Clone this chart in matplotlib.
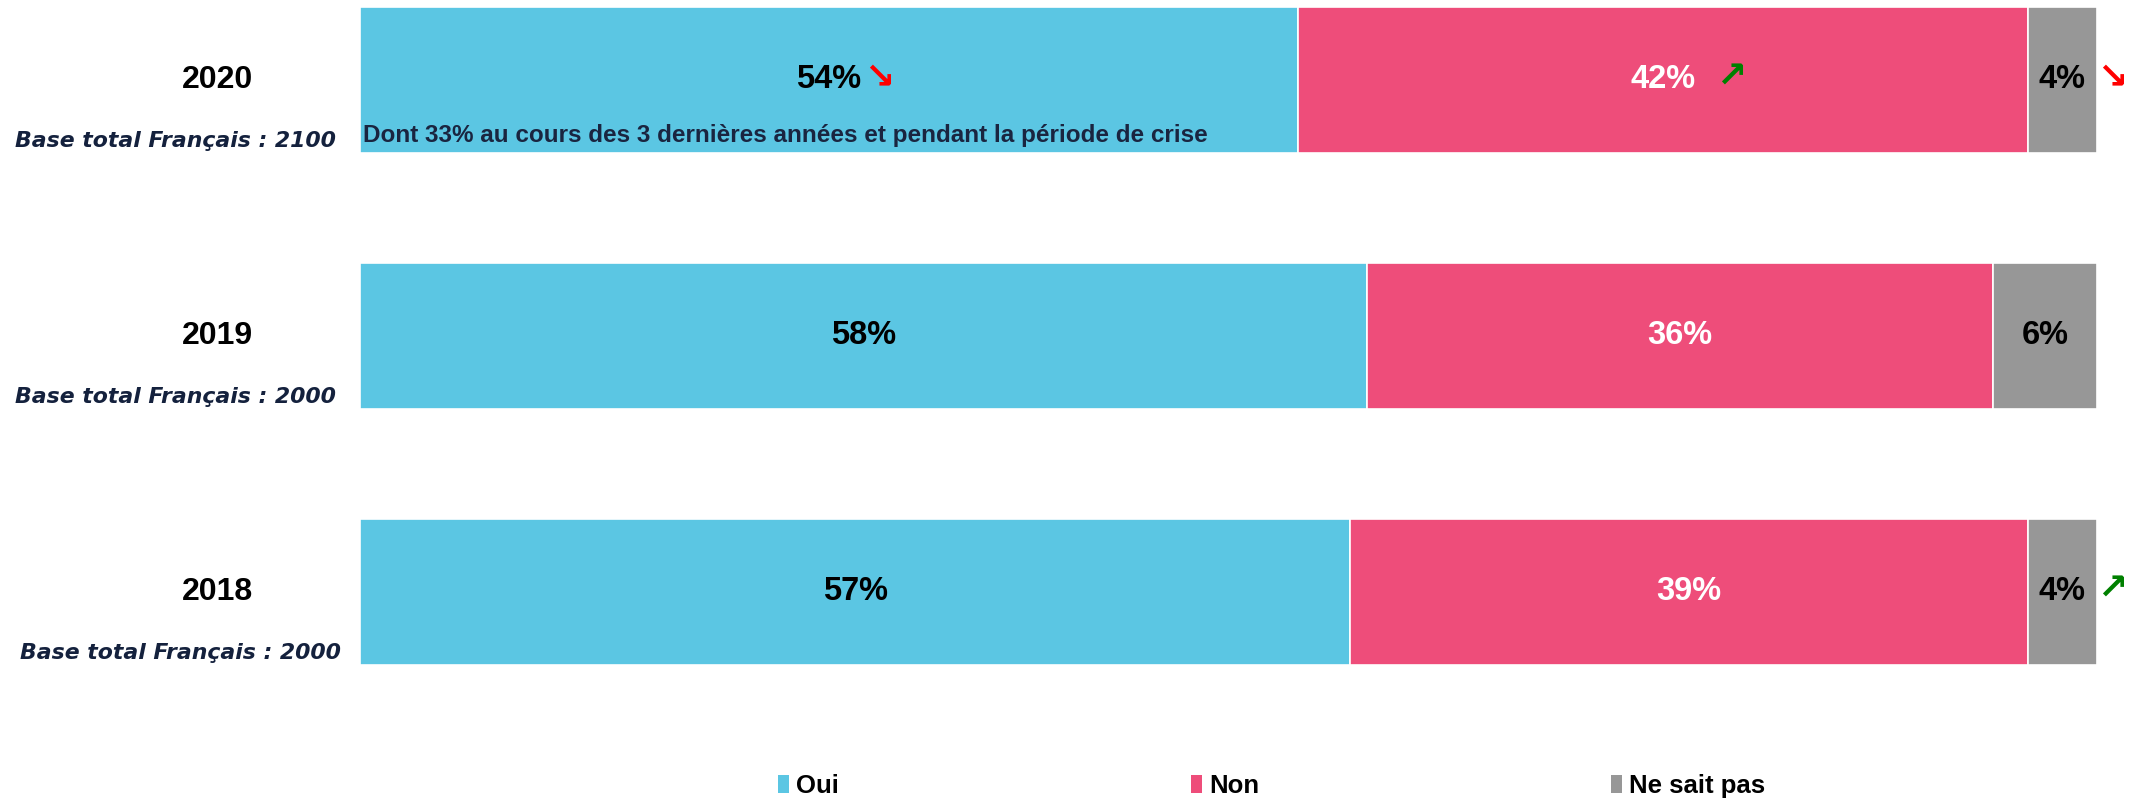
import matplotlib
matplotlib.use("Agg")
import matplotlib.pyplot as plt
from matplotlib.patches import Patch

years = ["2020", "2019", "2018"]
bases = ["Base total Français : 2100", "Base total Français : 2000", "Base total Français : 2000"]
oui = [54, 58, 57]
non = [42, 36, 39]
nsp = [4, 6, 4]
series_names = ["Oui", "Non", "Ne sait pas"]
colors = ["#5BC6E3", "#EE4D7A", "#979797"]
label_colors = ["black", "white", "black"]
# trend arrows: (year index, series index, symbol)
trends = [(0, 0, "down"), (0, 1, "up"), (0, 2, "down"), (2, 2, "up")]
note_2020 = "Dont 33% au cours des 3 dernières années et pendant la période de crise"

plt.rcParams['font.family'] = ['Liberation Sans', 'DejaVu Sans']

fig = plt.figure(figsize=(21.33, 8.02), dpi=100)
ax = fig.add_axes([360/2133, (802-700)/802, 1737/2133, 700/802])
ax.set_xlim(0, 100)
ax.set_ylim(-0.4219, 2.3125)
ax.axis('off')

ypos = [2, 1, 0]
height = 0.574
data = [oui, non, nsp]
left = [0, 0, 0]
handles = []
for s, vals in enumerate(data):
    ax.barh(ypos, vals, left=left, height=height, color=colors[s],
            edgecolor='white', linewidth=1.2, label=series_names[s])
    handles.append(Patch(facecolor=colors[s], label=series_names[s]))
    for i, v in enumerate(vals):
        ax.text(left[i] + v/2, ypos[i], f"{v}%", ha='center', va='center',
                fontsize=23.5, fontweight='bold', color=label_colors[s])
    left = [l + v for l, v in zip(left, vals)]

# trend arrows
arrow_offsets = {0: 50, 1: 68, 2: 50}
for yi, si, kind in trends:
    starts = [0, data[0][yi], data[0][yi] + data[1][yi]]
    cx = starts[si] + data[si][yi] / 2
    sym = "↘" if kind == "down" else "↗"
    col = "#FF0000" if kind == "down" else "#008000"
    ax.annotate(sym, xy=(cx, ypos[yi]), xytext=(arrow_offsets[si], 2),
                textcoords='offset pixels', ha='center', va='center',
                fontsize=26, fontweight='bold', color=col,
                family=['DejaVu Sans'], annotation_clip=False)

# year and base labels
tr = ax.get_yaxis_transform()
base_right = [-0.0138, -0.0138, -0.011]
for i, (yr, b) in enumerate(zip(years, bases)):
    ax.text(-0.0818, ypos[i] + 0.0, yr, transform=tr, ha='center', va='center',
            fontsize=23, fontweight='bold', color='black')
    ax.text(base_right[i], ypos[i] - 0.237, b, transform=tr, ha='right', va='center',
            fontsize=15.8, fontweight='bold', fontstyle='italic', color='#14213D',
            family=['DejaVu Sans'])

ax.text(0.2, ypos[0] - 0.215, note_2020, ha='left', va='center',
        fontsize=17.5, fontweight='bold', color='#1A2540')

fig.legend(handles=handles, loc='center', bbox_to_anchor=(1272/2133, 1 - 786/802),
           ncol=3, frameon=False, handlelength=0.4, handleheight=0.75,
           handletextpad=0.3, columnspacing=13.7,
           prop={'size': 18.5, 'weight': 'bold'})

fig.savefig("out.png", dpi=100)
